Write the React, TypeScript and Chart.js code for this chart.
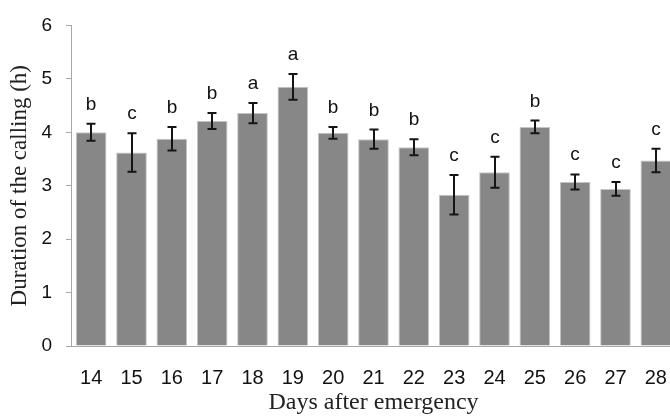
import React, { useEffect, useRef } from "react";
import { Chart, registerables } from "chart.js";

Chart.register(...registerables);

const days = ["14", "15", "16", "17", "18", "19", "20", "21", "22", "23", "24", "25", "26", "27", "28"];
const means = [4.0, 3.62, 3.88, 4.21, 4.36, 4.85, 3.99, 3.87, 3.72, 2.83, 3.25, 4.1, 3.07, 2.94, 3.47];
const errors = [0.16, 0.36, 0.22, 0.15, 0.19, 0.24, 0.11, 0.18, 0.15, 0.37, 0.29, 0.12, 0.14, 0.13, 0.22];
const letters = ["b", "c", "b", "b", "a", "a", "b", "b", "b", "c", "c", "b", "c", "c", "c"];
const yTicks = [0, 1, 2, 3, 4, 5, 6];

const SANS = "'Liberation Sans', Arial, sans-serif";
const SERIF = "'Liberation Serif', 'Times New Roman', serif";

const errorBarPlugin = {
  id: "errorBars",
  afterDatasetsDraw(chart: any) {
    const meta = chart.getDatasetMeta(0);
    const yScale = chart.scales.y;
    const ctx = chart.ctx;
    ctx.save();
    ctx.strokeStyle = "#151515";
    ctx.lineWidth = 2;
    ctx.fillStyle = "#111";
    ctx.font = `19px ${SANS}`;
    ctx.textAlign = "center";
    ctx.textBaseline = "alphabetic";
    meta.data.forEach((bar: any, i: number) => {
      const x = Math.round(bar.x);
      const yTop = yScale.getPixelForValue(means[i] + errors[i]);
      const yBot = yScale.getPixelForValue(means[i] - errors[i]);
      const cap = 4.5;
      ctx.beginPath();
      ctx.moveTo(x, yTop);
      ctx.lineTo(x, yBot);
      ctx.moveTo(x - cap, yTop);
      ctx.lineTo(x + cap, yTop);
      ctx.moveTo(x - cap, yBot);
      ctx.lineTo(x + cap, yBot);
      ctx.stroke();
      ctx.fillText(letters[i], x, yTop - 14);
    });
    ctx.restore();
  },
};

export default function App() {
  const ref = useRef<HTMLCanvasElement | null>(null);

  useEffect(() => {
    document.body.style.margin = "0";
    if (!ref.current) return;
    const chart = new Chart(ref.current, {
      type: "bar",
      data: {
        labels: days,
        datasets: [
          {
            data: means,
            backgroundColor: "#878787",
            borderColor: "#c4c4c4",
            borderWidth: 1,
            barPercentage: 0.76,
            categoryPercentage: 1,
          },
        ],
      },
      options: {
        animation: false,
        responsive: false,
        devicePixelRatio: 1,
        layout: { padding: { top: 20, left: 0, right: 0, bottom: 0 } },
        plugins: {
          legend: { display: false },
          tooltip: { enabled: false },
        },
        scales: {
          x: {
            grid: { display: false, drawTicks: false },
            border: { display: true, color: "#a8a8a8", width: 1 },
            ticks: {
              color: "#111",
              font: { family: SANS, size: 20 },
              padding: 20,
              maxRotation: 0,
              autoSkip: false,
            },
            title: {
              display: true,
              text: "Days after emergency",
              color: "#222",
              font: { family: SERIF, size: 24, lineHeight: 1 },
              padding: { top: 0, bottom: 1 },
            },
            afterFit(scale: any) {
              scale.height = 70;
              scale.paddingRight = 0;
              scale.paddingLeft = 0;
            },
          },
          y: {
            min: 0,
            max: 6,
            afterBuildTicks(scale: any) {
              scale.ticks = yTicks.map((v) => ({ value: v }));
            },
            grid: {
              display: true,
              drawOnChartArea: false,
              drawTicks: true,
              tickLength: 5,
              color: "#a8a8a8",
            },
            border: { display: true, color: "#a8a8a8", width: 1 },
            ticks: {
              color: "#111",
              font: { family: SANS, size: 19 },
              padding: 14,
            },
            title: {
              display: true,
              text: "Duration of the calling (h)",
              color: "#222",
              font: { family: SERIF, size: 23, lineHeight: 1.2 },
              padding: { top: 6, bottom: 0 },
            },
            afterFit(scale: any) {
              scale.width = 71;
            },
          },
        },
      },
      plugins: [errorBarPlugin],
    });
    return () => chart.destroy();
  }, []);

  return (
    <div style={{ width: 670, height: 416, overflow: "hidden", position: "relative" }}>
      <canvas ref={ref} width={676} height={416} style={{ display: "block" }} />
    </div>
  );
}
